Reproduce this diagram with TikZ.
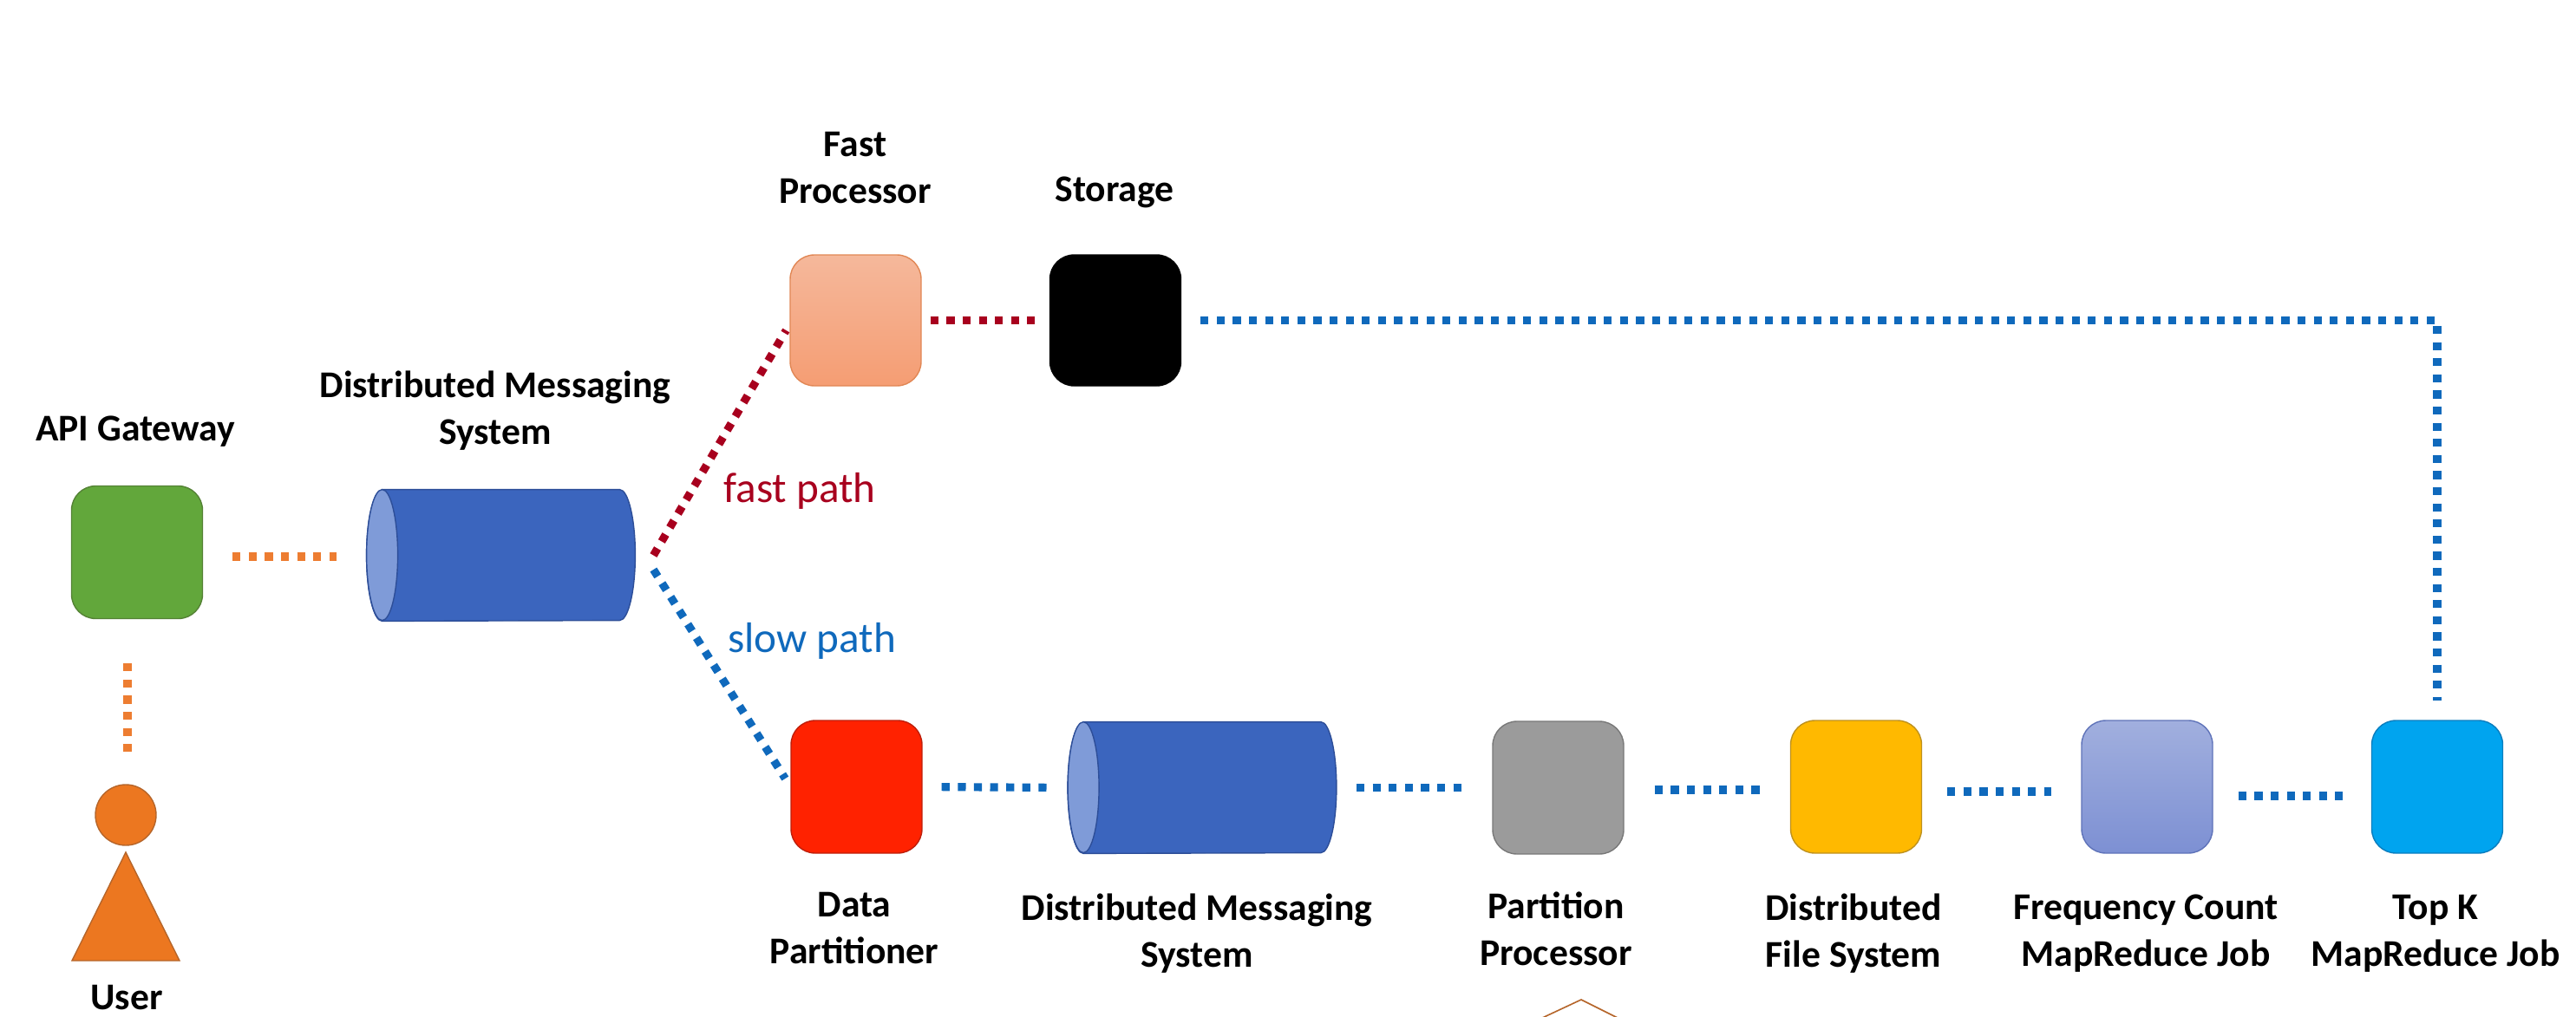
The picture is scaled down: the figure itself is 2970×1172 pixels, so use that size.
\documentclass[tikz,border=0pt]{standalone}
\usepackage{fontspec}
\setmainfont{Carlito}
\usetikzlibrary{calc}
\definecolor{dotorange}{HTML}{ED7D31}
\definecolor{dotred}{HTML}{A8001E}
\definecolor{dotblue}{HTML}{0F69BC}
\definecolor{cylblue}{HTML}{3B65BE}
\definecolor{cylline}{HTML}{2D4E98}
\definecolor{cylcap}{HTML}{7F9BD8}
\definecolor{personfill}{HTML}{EC7720}
\definecolor{personline}{HTML}{B5652A}
\definecolor{apifill}{HTML}{62A73B}
\definecolor{apiline}{HTML}{548235}
\definecolor{fasttop}{HTML}{F5B89B}
\definecolor{fastbot}{HTML}{F59D73}
\definecolor{fastline}{HTML}{E18755}
\definecolor{datafill}{HTML}{FF2200}
\definecolor{dataline}{HTML}{BE1E0A}
\definecolor{partfill}{HTML}{9B9B9B}
\definecolor{partline}{HTML}{787878}
\definecolor{dfsfill}{HTML}{FFB900}
\definecolor{dfsline}{HTML}{BE911E}
\definecolor{freqtop}{HTML}{A1AFDE}
\definecolor{freqbot}{HTML}{7D90D3}
\definecolor{freqline}{HTML}{5F73B9}
\definecolor{topkfill}{HTML}{00A4EF}
\definecolor{topkline}{HTML}{0A7DBE}
\tikzset{
  box/.style={draw, line width=0.7pt, rounded corners=14pt, inner sep=0pt, minimum width=75.5pt, minimum height=76.5pt},
  topbox/.style={box, minimum height=75.5pt},
  cylanchor/.style={inner sep=0pt, minimum width=154.5pt, minimum height=75.5pt},
  lbl/.style={font=\fontsize{21.8}{27}\selectfont\bfseries, align=center, inner sep=0pt, text=black},
  pathlbl/.style={font=\fontsize{24.6}{28}\selectfont, anchor=west, inner sep=0pt},
  dots/.style={line width=4.6pt, dash pattern=on 4.6pt off 4.7pt, line cap=butt},
  dotso/.style={dots, draw=dotorange},
  dotsr/.style={dots, draw=dotred},
  dotsb/.style={dots, draw=dotblue},
}
\newcommand{\cyldraw}[1]{%
  \draw[line width=0.7pt, draw=cylline, fill=cylblue]
    ([xshift=9pt]#1.north west) -- ([xshift=-9pt]#1.north east)
    arc[start angle=90, end angle=-90, x radius=9pt, y radius=37.75pt]
    -- ([xshift=9pt]#1.south west)
    arc[start angle=270, end angle=90, x radius=9pt, y radius=37.75pt] -- cycle;
  \draw[line width=0.7pt, draw=cylline, fill=cylcap]
    ([xshift=9pt]#1.north west)
    arc[start angle=90, end angle=450, x radius=9pt, y radius=37.75pt];
}
\begin{document}
\begin{tikzpicture}[x=0.5pt, y=-0.5pt]
\useasboundingbox (0,0) rectangle (2970,1172);
\clip (0,0) rectangle (2970,1172);

% boxes
\node[box, fill=apifill, draw=apiline] (api) at (158,637) {};
\node[topbox, top color=fasttop, bottom color=fastbot, draw=fastline] (fast) at (986.5,369.5) {};
\node[topbox, fill=black, draw=black] (store) at (1286,369.5) {};
\node[box, fill=datafill, draw=dataline] (data) at (987.5,907.5) {};
\node[box, fill=partfill, draw=partline] (part) at (1796.5,908.5) {};
\node[box, fill=dfsfill, draw=dfsline] (dfs) at (2140,907.5) {};
\node[box, top color=freqtop, bottom color=freqbot, draw=freqline] (freq) at (2475.5,907.5) {};
\node[box, fill=topkfill, draw=topkline] (topk) at (2810,907.5) {};

% cylinders
\node[cylanchor] (cylA) at (577.5,640.5) {};
\node[cylanchor] (cylB) at (1386,908.5) {};
\cyldraw{cylA}
\cyldraw{cylB}

% user
\node[circle, draw=personline, line width=0.7pt, fill=personfill, inner sep=0pt, minimum size=35pt] (head) at (145,940) {};
\coordinate (apex) at (145,983);
\coordinate (baseL) at (83,1108);
\coordinate (baseR) at (207,1108);
\draw[draw=personline, line width=0.7pt, fill=personfill] (apex) -- (baseL) -- (baseR) -- cycle;

% partial shape at the bottom edge
\coordinate (peak) at (1823,1153);
\coordinate (peakL) at (1776,1175);
\coordinate (peakR) at (1867,1175);
\draw[draw=personline, line width=0.8pt] (peakL) -- (peak) -- (peakR);

% labels
\node[lbl] (lApi) at (156,498) {API Gateway};
\node[lbl] (lCylA) at (571,474) {Distributed Messaging\\System};
\node[lbl] (lFast) at (986,194) {Fast\\Processor};
\node[lbl] (lStore) at (1285,222) {Storage};
\node[lbl] (lUser) at (146,1151) {User};
\node[lbl] (lData) at (985,1071) {Data\\Partitioner};
\node[lbl] (lCylB) at (1380,1077) {Distributed Messaging\\System};
\node[lbl] (lPart) at (1794,1071) {Partition\\Processor};
\node[lbl] (lDfs) at (2137,1077) {Distributed\\File System};
\node[lbl] (lFreq) at (2474,1077) {Frequency Count\\MapReduce Job};
\node[lbl] (lTop) at (2808,1077) {Top K\\MapReduce Job};
\node[pathlbl, text=dotred] (lfp) at (834,566) {fast path};
\node[pathlbl, text=dotblue] (lsp) at (839,739) {slow path};

% connectors
\draw[dotso, shorten <=17pt, shorten >=17.5pt] ([yshift=-2.5pt]api.east) -- ([yshift=-0.75pt]cylA.west);
\draw[dotso, shorten <=25.5pt, shorten >=18.75pt] ([xshift=-5.5pt]api.south) -- ([xshift=1pt]head.north);
\draw[dotsr] ([xshift=10.5pt]cylA.east) -- ([xshift=-2pt,yshift=-5.75pt]fast.west);
\draw[dotsb] ([xshift=10.5pt,yshift=-8.25pt]cylA.east) -- ([xshift=-3pt,yshift=4.75pt]data.west);
\draw[dotsr, shorten <=5pt, shorten >=8.5pt] (fast.east) -- (store.west);
\draw[dotsb, shorten <=11pt, shorten >=11pt] (store.east) -| (topk.north);
\draw[dotsb, shorten <=11pt, shorten >=11pt] (data.east) -- (cylB.west);
\draw[dotsb, shorten <=11.5pt, shorten >=17.5pt] (cylB.east) -- (part.west);
\draw[dotsb, shorten <=17.5pt, shorten >=17.5pt] ([yshift=-1.25pt]part.east) -- ([yshift=-1.75pt]dfs.west);
\draw[dotsb, shorten <=14.5pt, shorten >=17pt] ([yshift=-2.75pt]dfs.east) -- ([yshift=-2.75pt]freq.west);
\draw[dotsb, shorten <=14.5pt, shorten >=16.5pt] ([yshift=-5.25pt]freq.east) -- ([yshift=-5.25pt]topk.west);
\end{tikzpicture}
\end{document}
